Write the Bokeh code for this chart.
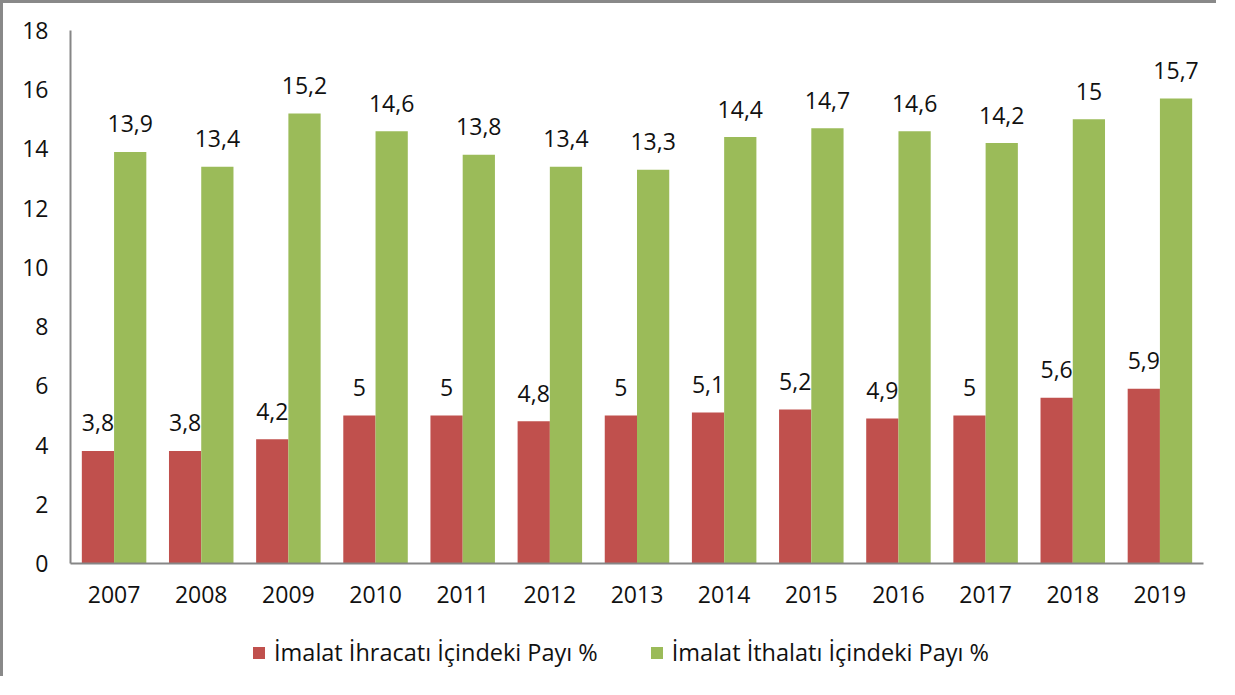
from bokeh.plotting import figure
from bokeh.models import ColumnDataSource, Legend, LegendItem, FactorRange
from bokeh.layouts import column
from bokeh.transform import dodge
from bokeh.core.properties import value
from bokeh.embed import file_html
from bokeh.resources import INLINE

years = ["2007", "2008", "2009", "2010", "2011", "2012", "2013",
         "2014", "2015", "2016", "2017", "2018", "2019"]
ihracat = [3.8, 3.8, 4.2, 5, 5, 4.8, 5, 5.1, 5.2, 4.9, 5, 5.6, 5.9]
ithalat = [13.9, 13.4, 15.2, 14.6, 13.8, 13.4, 13.3, 14.4, 14.7, 14.6, 14.2, 15, 15.7]
series_names = ["İmalat İhracatı İçindeki Payı %", "İmalat İthalatı İçindeki Payı %"]
y_ticks = [0, 2, 4, 6, 8, 10, 12, 14, 16, 18]


def fmt(v):
    s = ("%g" % v)
    return s.replace(".", ",")


src = ColumnDataSource(dict(
    year=years,
    red=ihracat,
    green=ithalat,
    red_lbl=[fmt(v) for v in ihracat],
    green_lbl=[fmt(v) for v in ithalat],
))

FONT = "Open Sans"
AXIS_COLOR = "#868686"
BORDER = "3px solid #898989"
RED = "#C0504D"
GREEN = "#9BBB59"
FS = "23px"

p = figure(
    x_range=FactorRange(*years, range_padding=0.0),
    y_range=(0, 18),
    width=1216, height=620,
    output_backend="svg",
    toolbar_location=None,
    min_border_left=67, min_border_right=16,
    min_border_top=27, min_border_bottom=60,
)
p.styles = {"border-left": BORDER, "border-top": BORDER}
p.outline_line_color = None
p.xgrid.grid_line_color = None
p.ygrid.grid_line_color = None

W = 0.37
OFF = 0.185
p.vbar(x=dodge("year", -OFF, range=p.x_range), top="red", width=W,
       source=src, fill_color=RED, line_color=None)
p.vbar(x=dodge("year", OFF, range=p.x_range), top="green", width=W,
       source=src, fill_color=GREEN, line_color=None)

p.text(x=dodge("year", -OFF, range=p.x_range), y="red", text="red_lbl", source=src,
       text_font=value(FONT), text_font_size=FS, text_color="#111111",
       text_align="center", text_baseline="alphabetic", y_offset=-28)
p.text(x=dodge("year", OFF, range=p.x_range), y="green", text="green_lbl", source=src,
       text_font=value(FONT), text_font_size=FS, text_color="#111111",
       text_align="center", text_baseline="alphabetic", y_offset=-28)

p.yaxis.ticker = y_ticks
for ax in (p.xaxis, p.yaxis):
    ax.axis_line_color = AXIS_COLOR
    ax.axis_line_width = 2
    ax.major_tick_line_color = None
    ax.minor_tick_line_color = None
    ax.major_tick_out = 0
    ax.major_tick_in = 0
    ax.major_label_text_font = FONT
    ax.major_label_text_font_size = FS
    ax.major_label_text_color = "#111111"
p.yaxis.major_label_standoff = 22
p.xaxis.major_label_standoff = 22

# legend strip below the chart
lg = figure(
    x_range=(0, 1), y_range=(0, 1),
    width=1216, height=56,
    output_backend="svg",
    toolbar_location=None,
    x_axis_location=None, y_axis_location=None,
    min_border_left=0, min_border_right=0, min_border_top=0, min_border_bottom=0,
)
lg.styles = {"border-left": BORDER}
lg.outline_line_color = None
lg.xgrid.grid_line_color = None
lg.ygrid.grid_line_color = None
# key renderers lie entirely outside the visible ranges; only their swatches show
k_red = lg.vbar(x=[-10], bottom=[-20], top=[-10], width=0.1, fill_color=RED, line_color=None)
k_green = lg.vbar(x=[-10], bottom=[-20], top=[-10], width=0.1, fill_color=GREEN, line_color=None)

legend = Legend(
    items=[LegendItem(label=series_names[0], renderers=[k_red]),
           LegendItem(label=series_names[1], renderers=[k_green])],
    orientation="horizontal", location=(181, 8),
    label_text_font=FONT, label_text_font_size="23.5px", label_text_color="#111111",
    glyph_width=15, glyph_height=15, label_standoff=8, spacing=51,
    border_line_color=None, background_fill_alpha=0, margin=0, padding=6,
)
lg.add_layout(legend, "center")

layout = column(p, lg, spacing=0)
open("out.html", "w").write(file_html(layout, INLINE))
